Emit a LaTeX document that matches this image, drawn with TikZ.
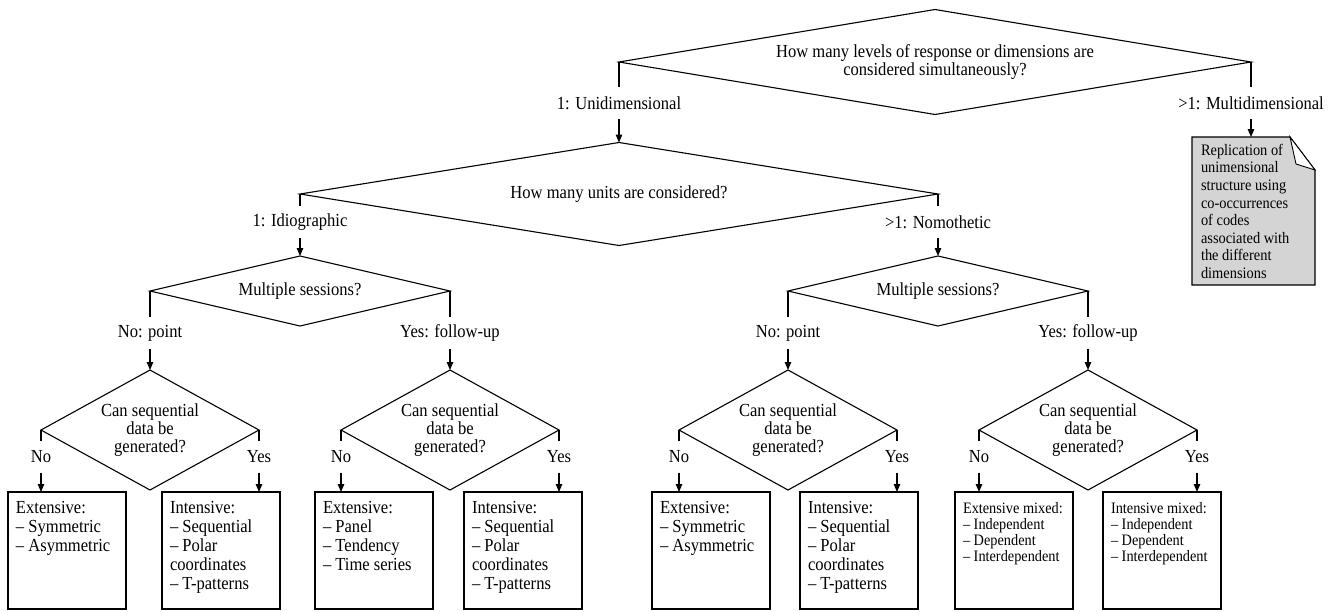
\documentclass[tikz,border=0pt]{standalone}
\usepackage{fontspec}
\setmainfont{Liberation Serif}[FakeStretch=0.9]
\usetikzlibrary{shapes.geometric,arrows.meta}
\definecolor{notegray}{RGB}{212,212,212}
\pgfdeclarelayer{bg}
\pgfsetlayers{bg,main}
\newcommand{\mainfs}{\fontsize{18.4}{18}\selectfont}
\newcommand{\boxfs}{\fontsize{18.4}{19}\selectfont}
\newcommand{\mixfs}{\fontsize{15.9}{16}\selectfont}
\newcommand{\notefs}{\fontsize{16}{17.6}\selectfont}
\tikzset{
  wire/.style={line width=1.1pt},
  arr/.style={wire,-{Triangle[length=8pt,width=6.5pt]}},
  dia/.style={diamond, draw, line width=1.1pt, inner sep=0pt, outer sep=0pt, align=center, font=\mainfs},
  lab/.style={inner sep=0pt, minimum height=31pt, font=\mainfs},
  resbox/.style={draw, line width=1.1pt, anchor=north west, inner xsep=8pt, inner ysep=9pt, outer sep=0pt, font=\boxfs},
  mixbox/.style={resbox, inner ysep=10pt, font=\mixfs},
}
\newcommand{\boxtext}[1]{\parbox[t][99pt][t]{102pt}{#1}}
\newcommand{\mixtext}[1]{\parbox[t][97pt][t]{102pt}{#1}}
\begin{document}
\begin{tikzpicture}[x=1pt,y=-1pt]
\useasboundingbox (0,0) rectangle (1335,611);

% level 1
\node[dia, minimum width=632pt, minimum height=105pt, shape aspect=6.02] (D1) at (935,62)
  {How many levels of response or dimensions are\\considered simultaneously?};
\node[lab] (L1) at ([yshift=-41pt]D1.west) {1: Unidimensional};
\node[lab] (L2) at ([yshift=-41pt]D1.east) {>1: Multidimensional};
\draw[wire] (D1.west) -- (L1.north);
\draw[wire] (D1.east) -- (L2.north);

% note
\node[anchor=north west, inner xsep=9pt, inner ysep=7pt, outer sep=0pt, font=\notefs] (N) at (1192,137)
  {\parbox[t][134pt][t]{105pt}{Replication of\\unimensional\\structure using\\co-occurrences\\of codes\\associated with\\the different\\dimensions}};
\begin{pgfonlayer}{bg}
\filldraw[wire, fill=notegray] (N.north west) -- ([xshift=-25pt]N.north east) -- ([yshift=-33pt]N.north east)
  -- (N.south east) -- (N.south west) -- cycle;
\filldraw[line width=0.9pt, fill=white] ([xshift=-25pt]N.north east) -- ([xshift=-19pt,yshift=-27pt]N.north east)
  -- ([yshift=-33pt]N.north east) -- cycle;
\end{pgfonlayer}
\draw[arr] (L2.south) -- (L2.south |- N.north);

% level 2
\node[dia, minimum width=638pt, minimum height=103pt, shape aspect=6.19] (D2) at (619,194)
  {How many units are considered?};
\draw[arr] (L1.south) -- (D2.north);
\node[lab] (L3) at ([yshift=-28pt]D2.west) {1: Idiographic};
\node[lab] (L4) at ([yshift=-28pt]D2.east) {>1: Nomothetic};
\draw[wire] (D2.west) -- (L3.north);
\draw[wire] (D2.east) -- (L4.north);

% level 3
\node[dia, minimum width=300pt, minimum height=70pt, shape aspect=4.29] (D3a) at (300,291) {Multiple sessions?};
\node[dia, minimum width=300pt, minimum height=70pt, shape aspect=4.29] (D3b) at (938,291) {Multiple sessions?};
\draw[arr] (L3.south) -- (D3a.north);
\draw[arr] (L4.south) -- (D3b.north);

\node[lab] (L5) at ([yshift=-42pt]D3a.west) {No: point};
\node[lab] (L6) at ([yshift=-42pt]D3a.east) {Yes: follow-up};
\node[lab] (L7) at ([yshift=-42pt]D3b.west) {No: point};
\node[lab] (L8) at ([yshift=-42pt]D3b.east) {Yes: follow-up};
\draw[wire] (D3a.west) -- (L5.north);
\draw[wire] (D3a.east) -- (L6.north);
\draw[wire] (D3b.west) -- (L7.north);
\draw[wire] (D3b.east) -- (L8.north);

% level 4
\node[dia, minimum width=218pt, minimum height=120pt, shape aspect=1.82] (D4a) at (150,430) {Can sequential\\data be\\generated?};
\node[dia, minimum width=218pt, minimum height=120pt, shape aspect=1.82] (D4b) at (450,430) {Can sequential\\data be\\generated?};
\node[dia, minimum width=218pt, minimum height=120pt, shape aspect=1.82] (D4c) at (788,430) {Can sequential\\data be\\generated?};
\node[dia, minimum width=218pt, minimum height=120pt, shape aspect=1.82] (D4d) at (1088,430) {Can sequential\\data be\\generated?};
\draw[arr] (L5.south) -- (D4a.north);
\draw[arr] (L6.south) -- (D4b.north);
\draw[arr] (L7.south) -- (D4c.north);
\draw[arr] (L8.south) -- (D4d.north);

\foreach \d/\i in {D4a/1,D4b/2,D4c/3,D4d/4}{
  \node[lab] (N\i) at ([yshift=-27pt]\d.west) {No};
  \node[lab] (Y\i) at ([yshift=-27pt]\d.east) {Yes};
  \draw[wire] (\d.west) -- (N\i.north);
  \draw[wire] (\d.east) -- (Y\i.north);
}

% result boxes
\node[resbox] (B1) at (8,492) {\boxtext{Extensive:\\– Symmetric\\– Asymmetric}};
\node[resbox] (B2) at (162,492) {\boxtext{Intensive:\\– Sequential\\– Polar\\coordinates\\– T-patterns}};
\node[resbox] (B3) at (315,492) {\boxtext{Extensive:\\– Panel\\– Tendency\\– Time series}};
\node[resbox] (B4) at (464,492) {\boxtext{Intensive:\\– Sequential\\– Polar\\coordinates\\– T-patterns}};
\node[resbox] (B5) at (652,492) {\boxtext{Extensive:\\– Symmetric\\– Asymmetric}};
\node[resbox] (B6) at (800,492) {\boxtext{Intensive:\\– Sequential\\– Polar\\coordinates\\– T-patterns}};
\node[mixbox] (B7) at (955,492) {\mixtext{Extensive mixed:\\– Independent\\– Dependent\\– Interdependent}};
\node[mixbox] (B8) at (1103,492) {\mixtext{Intensive mixed:\\– Independent\\– Dependent\\– Interdependent}};

\draw[arr] (N1.south) -- (N1.south |- B1.north);
\draw[arr] (Y1.south) -- (Y1.south |- B2.north);
\draw[arr] (N2.south) -- (N2.south |- B3.north);
\draw[arr] (Y2.south) -- (Y2.south |- B4.north);
\draw[arr] (N3.south) -- (N3.south |- B5.north);
\draw[arr] (Y3.south) -- (Y3.south |- B6.north);
\draw[arr] (N4.south) -- (N4.south |- B7.north);
\draw[arr] (Y4.south) -- (Y4.south |- B8.north);
\end{tikzpicture}
\end{document}
